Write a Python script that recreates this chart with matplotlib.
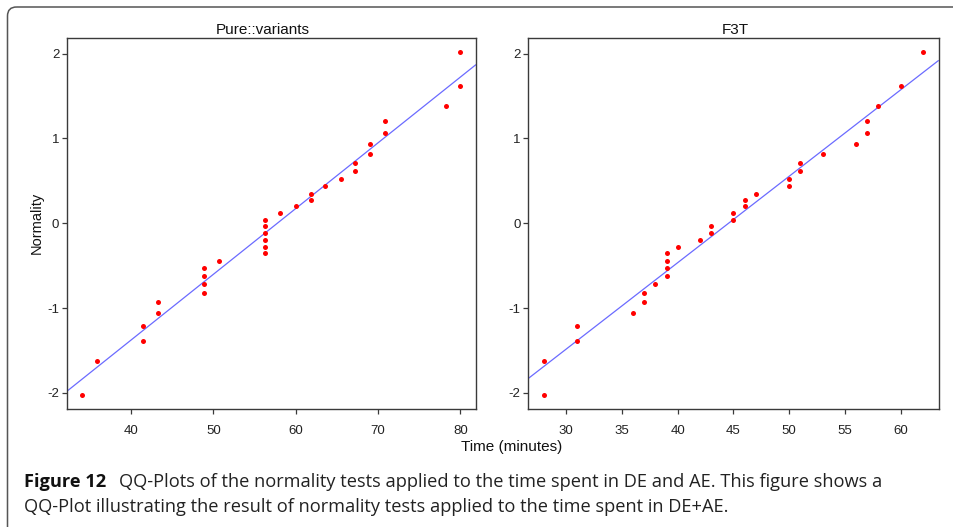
import matplotlib
matplotlib.use("Agg")
import matplotlib.pyplot as plt
from matplotlib import font_manager
from matplotlib.patches import FancyBboxPatch

# ---------------- data ----------------
normality = [-2.02, -1.62, -1.39, -1.21, -1.06, -0.93, -0.82, -0.72, -0.62, -0.53,
             -0.44, -0.35, -0.28, -0.20, -0.12, -0.035, 0.035, 0.12, 0.20, 0.27,
             0.35, 0.44, 0.52, 0.62, 0.71, 0.82, 0.93, 1.06, 1.20, 1.38, 1.62, 2.02]
pure_time = [34.0, 35.9, 41.4, 41.4, 43.2, 43.2, 48.8, 48.8, 48.8, 48.8,
             50.7, 56.3, 56.3, 56.3, 56.3, 56.3, 56.3, 58.1, 60.0, 61.8,
             61.8, 63.6, 65.5, 67.2, 67.2, 69.0, 69.0, 70.9, 70.9, 78.2, 80.0, 80.0]
f3t_time = [28, 28, 31, 31, 36, 37, 37, 38, 39, 39,
            39, 39, 40, 42, 43, 43, 45, 45, 46, 46,
            47, 50, 50, 51, 51, 53, 56, 57, 57, 58, 60, 62]
# reference (qq) lines: endpoints in data units
pure_line_x = [32.2, 81.9]
pure_line_y = [-1.98, 1.87]
f3t_line_x = [26.6, 63.4]
f3t_line_y = [-1.83, 1.92]

pure_xticks = [40, 50, 60, 70, 80]
f3t_xticks = [30, 35, 40, 45, 50, 55, 60]
y_ticks = [-2, -1, 0, 1, 2]
y_ticklabels = ["-2", "-1", "0", "1", "2"]

titles = ["Pure::variants", "F3T"]
xlabel = "Time (minutes)"
ylabel = "Normality"
caption_bold = "Figure 12"
caption_line1 = "QQ-Plots of the normality tests applied to the time spent in DE and AE. This figure shows a"
caption_line2 = "QQ-Plot illustrating the result of normality tests applied to the time spent in DE+AE."

# ---------------- fonts ----------------
names = {f.name for f in font_manager.fontManager.ttflist}
axis_font = "Liberation Sans" if "Liberation Sans" in names else "DejaVu Sans"
cap_font = "Open Sans" if "Open Sans" in names else axis_font
plt.rcParams["font.family"] = [axis_font, "DejaVu Sans"]

W, H = 954, 527
fig = plt.figure(figsize=(W / 100, H / 100), dpi=100)
fig.patch.set_facecolor("white")


def fx(px):
    return px / W


def fy(py):
    return 1 - py / H


spine_col = "#3a3a3a"
tick_col = "#3a3a3a"

# background overlay for border (pixel coords)
bg = fig.add_axes([0, 0, 1, 1], zorder=-5)
bg.set_xlim(0, W)
bg.set_ylim(H, 0)
bg.axis("off")
bg.add_patch(FancyBboxPatch((7.5, 7.0), 1100, 700,
                            boxstyle="round,pad=0,rounding_size=9",
                            fc="none", ec="#555555", lw=1.1))

panels = [
    dict(rect=(67, 38.3, 476, 409), x=pure_time, lx=pure_line_x, ly=pure_line_y,
         xticks=pure_xticks, title=titles[0], tpos=(262.5, 30)),
    dict(rect=(528.3, 38.3, 938.7, 409), x=f3t_time, lx=f3t_line_x, ly=f3t_line_y,
         xticks=f3t_xticks, title=titles[1], tpos=(735, 30)),
]

for p in panels:
    x0, y0, x1, y1 = p["rect"]
    ax = fig.add_axes([fx(x0), fy(y1), (x1 - x0) / W, (y1 - y0) / H])
    ax.plot(p["lx"], p["ly"], color="#6b6bff", lw=0.9, solid_capstyle="butt", zorder=2)
    ax.plot(p["x"], normality, "o", color="#ff0000", ms=3.6, mec="none", zorder=3)
    ax.set_xlim(p["lx"][0], p["lx"][1])
    ax.set_ylim(-2.19, 2.18)
    ax.set_xticks(p["xticks"])
    ax.set_xticklabels([str(t) for t in p["xticks"]])
    ax.set_yticks(y_ticks)
    ax.set_yticklabels(y_ticklabels)
    ax.tick_params(axis="both", direction="out", length=3.5, width=0.9,
                   color=tick_col, labelsize=9.5, labelcolor="#222222")
    ax.tick_params(axis="x", pad=8)
    ax.tick_params(axis="y", pad=2)
    for s in ax.spines.values():
        s.set_color(spine_col)
        s.set_linewidth(1.0)
    fig.text(fx(p["tpos"][0]), fy(p["tpos"][1]), p["title"], ha="center", va="center",
             fontsize=11, color="#111111")

fig.text(fx(511.7), fy(446.7), xlabel, ha="center", va="center", fontsize=11, color="#111111")
fig.text(fx(37), fy(223), ylabel, ha="center", va="center", rotation=90, fontsize=10.5,
         color="#111111")

# ---------------- caption, fitted to the reference width ----------------
renderer = fig.canvas.get_renderer()
size = 13.0
tb = fig.text(fx(24), fy(487.3), caption_bold, fontsize=size, fontweight="bold",
              family=[cap_font, "DejaVu Sans"], va="baseline", ha="left", color="#111111")
t1 = fig.text(0, fy(487.3), caption_line1, fontsize=size, family=[cap_font, "DejaVu Sans"],
              va="baseline", ha="left", color="#222222")
t2 = fig.text(fx(24), fy(511.5), caption_line2, fontsize=size, family=[cap_font, "DejaVu Sans"],
              va="baseline", ha="left", color="#222222")
for _ in range(3):
    bw = tb.get_window_extent(renderer).width
    w1 = t1.get_window_extent(renderer).width
    total = bw + 13 + w1
    size = size * (883 - 24) / total
    for t in (tb, t1, t2):
        t.set_fontsize(size)
bw = tb.get_window_extent(renderer).width
t1.set_x(fx(24 + bw + 13))

fig.savefig("out.png", dpi=100, facecolor="white")
